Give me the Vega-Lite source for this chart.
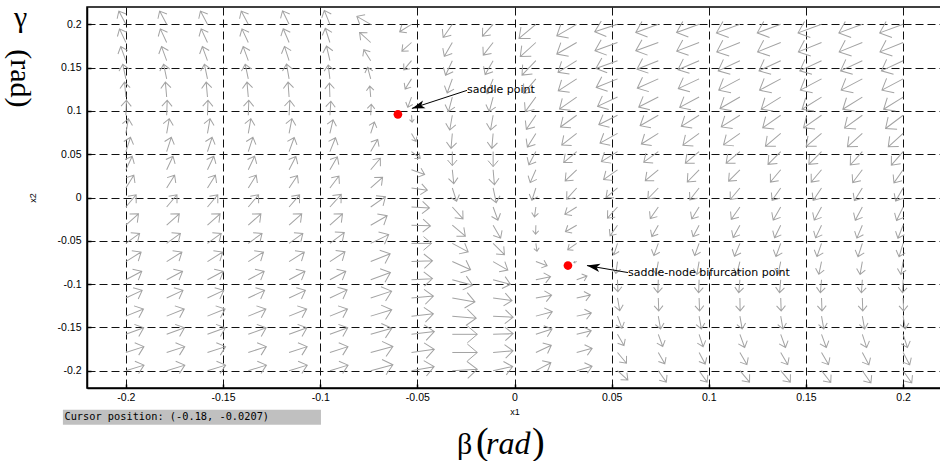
{
"$schema":"https://vega.github.io/schema/vega-lite/v6.json",
"width":855,"height":381,
"autosize":{"type":"none"},
"padding":{"left":87,"top":7,"right":0,"bottom":73},
"background":"white",
"config":{
 "view":{"stroke":"#000","strokeWidth":1.5},
 "axis":{"grid":true,"gridColor":"#111","gridDash":[8,4],"gridWidth":1,"domainColor":"#000","domainWidth":1.5,"tickColor":"#000","tickSize":-4,"tickWidth":1.5,"labelFont":"Liberation Sans","labelFontSize":10.5,"labelColor":"#000","titleFont":"Liberation Sans","titleFontSize":9,"titleFontWeight":"normal","titleColor":"#000"}
},
"datasets":{
"field":[
{"x":-0.2,"y":0.2,"dir":118,"speed":15},{"x":-0.2,"y":0.179,"dir":115,"speed":15},{"x":-0.2,"y":0.158,"dir":110,"speed":15},{"x":-0.2,"y":0.137,"dir":102,"speed":15},{"x":-0.2,"y":0.116,"dir":95,"speed":15},{"x":-0.2,"y":0.095,"dir":88,"speed":15},{"x":-0.2,"y":0.074,"dir":80,"speed":15},{"x":-0.2,"y":0.053,"dir":72,"speed":15},{"x":-0.2,"y":0.032,"dir":65,"speed":15},{"x":-0.2,"y":0.011,"dir":58,"speed":15},{"x":-0.2,"y":-0.011,"dir":50,"speed":16},{"x":-0.2,"y":-0.032,"dir":42,"speed":17},{"x":-0.2,"y":-0.053,"dir":36,"speed":17},{"x":-0.2,"y":-0.074,"dir":32,"speed":18},{"x":-0.2,"y":-0.095,"dir":28,"speed":18},{"x":-0.2,"y":-0.116,"dir":25,"speed":18},{"x":-0.2,"y":-0.137,"dir":22,"speed":19},{"x":-0.2,"y":-0.158,"dir":20,"speed":19},{"x":-0.2,"y":-0.179,"dir":18,"speed":19},{"x":-0.2,"y":-0.2,"dir":17,"speed":19},
{"x":-0.179,"y":0.2,"dir":118,"speed":15},{"x":-0.179,"y":0.179,"dir":115,"speed":15},{"x":-0.179,"y":0.158,"dir":110,"speed":15},{"x":-0.179,"y":0.137,"dir":102,"speed":15},{"x":-0.179,"y":0.116,"dir":95,"speed":15},{"x":-0.179,"y":0.095,"dir":88,"speed":15},{"x":-0.179,"y":0.074,"dir":80,"speed":15},{"x":-0.179,"y":0.053,"dir":72,"speed":15},{"x":-0.179,"y":0.032,"dir":65,"speed":15},{"x":-0.179,"y":0.011,"dir":58,"speed":15},{"x":-0.179,"y":-0.011,"dir":50,"speed":16},{"x":-0.179,"y":-0.032,"dir":42,"speed":17},{"x":-0.179,"y":-0.053,"dir":36,"speed":17},{"x":-0.179,"y":-0.074,"dir":32,"speed":18},{"x":-0.179,"y":-0.095,"dir":28,"speed":18},{"x":-0.179,"y":-0.116,"dir":25,"speed":18},{"x":-0.179,"y":-0.137,"dir":22,"speed":19},{"x":-0.179,"y":-0.158,"dir":20,"speed":19},{"x":-0.179,"y":-0.179,"dir":18,"speed":19},{"x":-0.179,"y":-0.2,"dir":17,"speed":19},
{"x":-0.158,"y":0.2,"dir":118,"speed":15},{"x":-0.158,"y":0.179,"dir":115,"speed":15},{"x":-0.158,"y":0.158,"dir":110,"speed":15},{"x":-0.158,"y":0.137,"dir":102,"speed":15},{"x":-0.158,"y":0.116,"dir":95,"speed":15},{"x":-0.158,"y":0.095,"dir":88,"speed":15},{"x":-0.158,"y":0.074,"dir":80,"speed":15},{"x":-0.158,"y":0.053,"dir":72,"speed":15},{"x":-0.158,"y":0.032,"dir":65,"speed":15},{"x":-0.158,"y":0.011,"dir":58,"speed":15},{"x":-0.158,"y":-0.011,"dir":50,"speed":16},{"x":-0.158,"y":-0.032,"dir":42,"speed":17},{"x":-0.158,"y":-0.053,"dir":36,"speed":17},{"x":-0.158,"y":-0.074,"dir":32,"speed":18},{"x":-0.158,"y":-0.095,"dir":28,"speed":18},{"x":-0.158,"y":-0.116,"dir":25,"speed":18},{"x":-0.158,"y":-0.137,"dir":22,"speed":19},{"x":-0.158,"y":-0.158,"dir":20,"speed":19},{"x":-0.158,"y":-0.179,"dir":18,"speed":19},{"x":-0.158,"y":-0.2,"dir":17,"speed":19},
{"x":-0.137,"y":0.2,"dir":118,"speed":15},{"x":-0.137,"y":0.179,"dir":115,"speed":15},{"x":-0.137,"y":0.158,"dir":110,"speed":15},{"x":-0.137,"y":0.137,"dir":102,"speed":15},{"x":-0.137,"y":0.116,"dir":95,"speed":15},{"x":-0.137,"y":0.095,"dir":88,"speed":15},{"x":-0.137,"y":0.074,"dir":80,"speed":15},{"x":-0.137,"y":0.053,"dir":72,"speed":15},{"x":-0.137,"y":0.032,"dir":65,"speed":15},{"x":-0.137,"y":0.011,"dir":58,"speed":15},{"x":-0.137,"y":-0.011,"dir":50,"speed":16},{"x":-0.137,"y":-0.032,"dir":42,"speed":17},{"x":-0.137,"y":-0.053,"dir":36,"speed":17},{"x":-0.137,"y":-0.074,"dir":32,"speed":18},{"x":-0.137,"y":-0.095,"dir":28,"speed":18},{"x":-0.137,"y":-0.116,"dir":25,"speed":18},{"x":-0.137,"y":-0.137,"dir":22,"speed":19},{"x":-0.137,"y":-0.158,"dir":20,"speed":19},{"x":-0.137,"y":-0.179,"dir":18,"speed":19},{"x":-0.137,"y":-0.2,"dir":17,"speed":19},
{"x":-0.116,"y":0.2,"dir":116,"speed":15},{"x":-0.116,"y":0.179,"dir":113,"speed":15},{"x":-0.116,"y":0.158,"dir":108,"speed":15},{"x":-0.116,"y":0.137,"dir":100,"speed":15},{"x":-0.116,"y":0.116,"dir":94,"speed":15},{"x":-0.116,"y":0.095,"dir":87,"speed":15},{"x":-0.116,"y":0.074,"dir":79,"speed":15},{"x":-0.116,"y":0.053,"dir":70,"speed":15},{"x":-0.116,"y":0.032,"dir":63,"speed":15},{"x":-0.116,"y":0.011,"dir":56,"speed":15},{"x":-0.116,"y":-0.011,"dir":49,"speed":16},{"x":-0.116,"y":-0.032,"dir":42,"speed":17},{"x":-0.116,"y":-0.053,"dir":36,"speed":17},{"x":-0.116,"y":-0.074,"dir":32,"speed":18},{"x":-0.116,"y":-0.095,"dir":28,"speed":18},{"x":-0.116,"y":-0.116,"dir":25,"speed":18},{"x":-0.116,"y":-0.137,"dir":22,"speed":19},{"x":-0.116,"y":-0.158,"dir":20,"speed":19},{"x":-0.116,"y":-0.179,"dir":18,"speed":19},{"x":-0.116,"y":-0.2,"dir":17,"speed":19},
{"x":-0.095,"y":0.2,"dir":112,"speed":15},{"x":-0.095,"y":0.179,"dir":108,"speed":15},{"x":-0.095,"y":0.158,"dir":103,"speed":15},{"x":-0.095,"y":0.137,"dir":97,"speed":14},{"x":-0.095,"y":0.116,"dir":92,"speed":14},{"x":-0.095,"y":0.095,"dir":86,"speed":14},{"x":-0.095,"y":0.074,"dir":77,"speed":14},{"x":-0.095,"y":0.053,"dir":68,"speed":15},{"x":-0.095,"y":0.032,"dir":60,"speed":15},{"x":-0.095,"y":0.011,"dir":53,"speed":15},{"x":-0.095,"y":-0.011,"dir":48,"speed":17},{"x":-0.095,"y":-0.032,"dir":42,"speed":17},{"x":-0.095,"y":-0.053,"dir":37,"speed":18},{"x":-0.095,"y":-0.074,"dir":33,"speed":18},{"x":-0.095,"y":-0.095,"dir":28,"speed":18},{"x":-0.095,"y":-0.116,"dir":25,"speed":19},{"x":-0.095,"y":-0.137,"dir":22,"speed":19},{"x":-0.095,"y":-0.158,"dir":20,"speed":19},{"x":-0.095,"y":-0.179,"dir":18,"speed":19},{"x":-0.095,"y":-0.2,"dir":17,"speed":19},
{"x":-0.074,"y":0.2,"dir":150,"speed":16},{"x":-0.074,"y":0.179,"dir":138,"speed":15},{"x":-0.074,"y":0.158,"dir":122,"speed":13},{"x":-0.074,"y":0.137,"dir":105,"speed":12},{"x":-0.074,"y":0.116,"dir":95,"speed":11},{"x":-0.074,"y":0.095,"dir":87,"speed":11},{"x":-0.074,"y":0.074,"dir":72,"speed":12},{"x":-0.074,"y":0.053,"dir":60,"speed":14},{"x":-0.074,"y":0.032,"dir":50,"speed":15},{"x":-0.074,"y":0.011,"dir":42,"speed":16},{"x":-0.074,"y":-0.011,"dir":35,"speed":18},{"x":-0.074,"y":-0.032,"dir":30,"speed":19},{"x":-0.074,"y":-0.053,"dir":26,"speed":20},{"x":-0.074,"y":-0.074,"dir":22,"speed":21},{"x":-0.074,"y":-0.095,"dir":20,"speed":21},{"x":-0.074,"y":-0.116,"dir":18,"speed":22},{"x":-0.074,"y":-0.137,"dir":17,"speed":22},{"x":-0.074,"y":-0.158,"dir":16,"speed":22},{"x":-0.074,"y":-0.179,"dir":15,"speed":23},{"x":-0.074,"y":-0.2,"dir":15,"speed":23},
{"x":-0.053,"y":0.2,"dir":212,"speed":14},{"x":-0.053,"y":0.179,"dir":222,"speed":13},{"x":-0.053,"y":0.158,"dir":230,"speed":12},{"x":-0.053,"y":0.137,"dir":238,"speed":12},{"x":-0.053,"y":0.116,"dir":250,"speed":11},{"x":-0.053,"y":0.095,"dir":275,"speed":7},{"x":-0.053,"y":0.074,"dir":300,"speed":9},{"x":-0.053,"y":0.053,"dir":322,"speed":11},{"x":-0.053,"y":0.032,"dir":340,"speed":14},{"x":-0.053,"y":0.011,"dir":352,"speed":16},{"x":-0.053,"y":-0.011,"dir":357,"speed":18},{"x":-0.053,"y":-0.032,"dir":358,"speed":19},{"x":-0.053,"y":-0.053,"dir":0,"speed":20},{"x":-0.053,"y":-0.074,"dir":2,"speed":21},{"x":-0.053,"y":-0.095,"dir":3,"speed":21},{"x":-0.053,"y":-0.116,"dir":5,"speed":22},{"x":-0.053,"y":-0.137,"dir":6,"speed":22},{"x":-0.053,"y":-0.158,"dir":7,"speed":23},{"x":-0.053,"y":-0.179,"dir":8,"speed":23},{"x":-0.053,"y":-0.2,"dir":10,"speed":23},
{"x":-0.032,"y":0.2,"dir":235,"speed":16},{"x":-0.032,"y":0.179,"dir":240,"speed":16},{"x":-0.032,"y":0.158,"dir":245,"speed":16},{"x":-0.032,"y":0.137,"dir":250,"speed":15},{"x":-0.032,"y":0.116,"dir":255,"speed":15},{"x":-0.032,"y":0.095,"dir":260,"speed":15},{"x":-0.032,"y":0.074,"dir":265,"speed":15},{"x":-0.032,"y":0.053,"dir":270,"speed":14},{"x":-0.032,"y":0.032,"dir":276,"speed":14},{"x":-0.032,"y":0.011,"dir":288,"speed":14},{"x":-0.032,"y":-0.011,"dir":312,"speed":16},{"x":-0.032,"y":-0.032,"dir":320,"speed":17},{"x":-0.032,"y":-0.053,"dir":332,"speed":18},{"x":-0.032,"y":-0.074,"dir":336,"speed":20},{"x":-0.032,"y":-0.095,"dir":345,"speed":21},{"x":-0.032,"y":-0.116,"dir":350,"speed":23},{"x":-0.032,"y":-0.137,"dir":355,"speed":24},{"x":-0.032,"y":-0.158,"dir":0,"speed":25},{"x":-0.032,"y":-0.179,"dir":0,"speed":25},{"x":-0.032,"y":-0.2,"dir":3,"speed":25},
{"x":-0.011,"y":0.2,"dir":228,"speed":16},{"x":-0.011,"y":0.179,"dir":232,"speed":16},{"x":-0.011,"y":0.158,"dir":240,"speed":16},{"x":-0.011,"y":0.137,"dir":248,"speed":16},{"x":-0.011,"y":0.116,"dir":255,"speed":15},{"x":-0.011,"y":0.095,"dir":260,"speed":15},{"x":-0.011,"y":0.074,"dir":265,"speed":15},{"x":-0.011,"y":0.053,"dir":270,"speed":15},{"x":-0.011,"y":0.032,"dir":275,"speed":15},{"x":-0.011,"y":0.011,"dir":282,"speed":15},{"x":-0.011,"y":-0.011,"dir":290,"speed":14},{"x":-0.011,"y":-0.032,"dir":300,"speed":15},{"x":-0.011,"y":-0.053,"dir":315,"speed":16},{"x":-0.011,"y":-0.074,"dir":330,"speed":17},{"x":-0.011,"y":-0.095,"dir":345,"speed":18},{"x":-0.011,"y":-0.116,"dir":352,"speed":19},{"x":-0.011,"y":-0.137,"dir":357,"speed":20},{"x":-0.011,"y":-0.158,"dir":2,"speed":20},{"x":-0.011,"y":-0.179,"dir":5,"speed":20},{"x":-0.011,"y":-0.2,"dir":12,"speed":20},
{"x":0.011,"y":0.2,"dir":220,"speed":22},{"x":0.011,"y":0.179,"dir":222,"speed":21},{"x":0.011,"y":0.158,"dir":226,"speed":20},{"x":0.011,"y":0.137,"dir":230,"speed":19},{"x":0.011,"y":0.116,"dir":234,"speed":18},{"x":0.011,"y":0.095,"dir":236,"speed":17},{"x":0.011,"y":0.074,"dir":238,"speed":16},{"x":0.011,"y":0.053,"dir":242,"speed":15},{"x":0.011,"y":0.032,"dir":246,"speed":14},{"x":0.011,"y":0.011,"dir":252,"speed":13},{"x":0.011,"y":-0.011,"dir":262,"speed":10},{"x":0.011,"y":-0.032,"dir":268,"speed":9},{"x":0.011,"y":-0.053,"dir":278,"speed":8},{"x":0.011,"y":-0.074,"dir":340,"speed":12},{"x":0.011,"y":-0.095,"dir":12,"speed":15},{"x":0.011,"y":-0.116,"dir":10,"speed":16},{"x":0.011,"y":-0.137,"dir":15,"speed":17},{"x":0.011,"y":-0.158,"dir":18,"speed":17},{"x":0.011,"y":-0.179,"dir":25,"speed":17},{"x":0.011,"y":-0.2,"dir":28,"speed":17},
{"x":0.032,"y":0.2,"dir":210,"speed":23},{"x":0.032,"y":0.179,"dir":210,"speed":23},{"x":0.032,"y":0.158,"dir":212,"speed":22},{"x":0.032,"y":0.137,"dir":213,"speed":22},{"x":0.032,"y":0.116,"dir":215,"speed":21},{"x":0.032,"y":0.095,"dir":216,"speed":20},{"x":0.032,"y":0.074,"dir":218,"speed":19},{"x":0.032,"y":0.053,"dir":220,"speed":17},{"x":0.032,"y":0.032,"dir":224,"speed":16},{"x":0.032,"y":0.011,"dir":228,"speed":15},{"x":0.032,"y":-0.011,"dir":212,"speed":14},{"x":0.032,"y":-0.032,"dir":210,"speed":13},{"x":0.032,"y":-0.053,"dir":215,"speed":11},{"x":0.032,"y":-0.074,"dir":200,"speed":3},{"x":0.032,"y":-0.095,"dir":20,"speed":11},{"x":0.032,"y":-0.116,"dir":12,"speed":14},{"x":0.032,"y":-0.137,"dir":12,"speed":15},{"x":0.032,"y":-0.158,"dir":14,"speed":15},{"x":0.032,"y":-0.179,"dir":15,"speed":16},{"x":0.032,"y":-0.2,"dir":16,"speed":16},
{"x":0.053,"y":0.2,"dir":198,"speed":24},{"x":0.053,"y":0.179,"dir":200,"speed":24},{"x":0.053,"y":0.158,"dir":200,"speed":23},{"x":0.053,"y":0.137,"dir":202,"speed":23},{"x":0.053,"y":0.116,"dir":205,"speed":22},{"x":0.053,"y":0.095,"dir":207,"speed":21},{"x":0.053,"y":0.074,"dir":209,"speed":20},{"x":0.053,"y":0.053,"dir":212,"speed":19},{"x":0.053,"y":0.032,"dir":215,"speed":17},{"x":0.053,"y":0.011,"dir":220,"speed":15},{"x":0.053,"y":-0.011,"dir":228,"speed":15},{"x":0.053,"y":-0.032,"dir":235,"speed":13},{"x":0.053,"y":-0.053,"dir":252,"speed":12},{"x":0.053,"y":-0.074,"dir":262,"speed":12},{"x":0.053,"y":-0.095,"dir":272,"speed":12},{"x":0.053,"y":-0.116,"dir":280,"speed":13},{"x":0.053,"y":-0.137,"dir":290,"speed":13},{"x":0.053,"y":-0.158,"dir":300,"speed":13},{"x":0.053,"y":-0.179,"dir":310,"speed":14},{"x":0.053,"y":-0.2,"dir":318,"speed":14},
{"x":0.074,"y":0.2,"dir":200,"speed":24},{"x":0.074,"y":0.179,"dir":200,"speed":24},{"x":0.074,"y":0.158,"dir":202,"speed":23},{"x":0.074,"y":0.137,"dir":204,"speed":23},{"x":0.074,"y":0.116,"dir":207,"speed":22},{"x":0.074,"y":0.095,"dir":210,"speed":21},{"x":0.074,"y":0.074,"dir":212,"speed":20},{"x":0.074,"y":0.053,"dir":216,"speed":18},{"x":0.074,"y":0.032,"dir":220,"speed":17},{"x":0.074,"y":0.011,"dir":226,"speed":15},{"x":0.074,"y":-0.011,"dir":235,"speed":14},{"x":0.074,"y":-0.032,"dir":240,"speed":13},{"x":0.074,"y":-0.053,"dir":250,"speed":13},{"x":0.074,"y":-0.074,"dir":260,"speed":13},{"x":0.074,"y":-0.095,"dir":268,"speed":13},{"x":0.074,"y":-0.116,"dir":272,"speed":13},{"x":0.074,"y":-0.137,"dir":280,"speed":13},{"x":0.074,"y":-0.158,"dir":290,"speed":13},{"x":0.074,"y":-0.179,"dir":300,"speed":13},{"x":0.074,"y":-0.2,"dir":305,"speed":14},
{"x":0.095,"y":0.2,"dir":200,"speed":24},{"x":0.095,"y":0.179,"dir":201,"speed":24},{"x":0.095,"y":0.158,"dir":203,"speed":23},{"x":0.095,"y":0.137,"dir":205,"speed":23},{"x":0.095,"y":0.116,"dir":208,"speed":22},{"x":0.095,"y":0.095,"dir":212,"speed":21},{"x":0.095,"y":0.074,"dir":216,"speed":20},{"x":0.095,"y":0.053,"dir":220,"speed":18},{"x":0.095,"y":0.032,"dir":226,"speed":17},{"x":0.095,"y":0.011,"dir":232,"speed":15},{"x":0.095,"y":-0.011,"dir":238,"speed":14},{"x":0.095,"y":-0.032,"dir":242,"speed":13},{"x":0.095,"y":-0.053,"dir":250,"speed":13},{"x":0.095,"y":-0.074,"dir":260,"speed":13},{"x":0.095,"y":-0.095,"dir":268,"speed":13},{"x":0.095,"y":-0.116,"dir":272,"speed":13},{"x":0.095,"y":-0.137,"dir":280,"speed":13},{"x":0.095,"y":-0.158,"dir":288,"speed":13},{"x":0.095,"y":-0.179,"dir":298,"speed":13},{"x":0.095,"y":-0.2,"dir":305,"speed":14},
{"x":0.116,"y":0.2,"dir":200,"speed":25},{"x":0.116,"y":0.179,"dir":202,"speed":25},{"x":0.116,"y":0.158,"dir":205,"speed":24},{"x":0.116,"y":0.137,"dir":208,"speed":24},{"x":0.116,"y":0.116,"dir":210,"speed":23},{"x":0.116,"y":0.095,"dir":212,"speed":22},{"x":0.116,"y":0.074,"dir":215,"speed":20},{"x":0.116,"y":0.053,"dir":220,"speed":18},{"x":0.116,"y":0.032,"dir":225,"speed":16},{"x":0.116,"y":0.011,"dir":230,"speed":15},{"x":0.116,"y":-0.011,"dir":235,"speed":15},{"x":0.116,"y":-0.032,"dir":241,"speed":14},{"x":0.116,"y":-0.053,"dir":247,"speed":14},{"x":0.116,"y":-0.074,"dir":256,"speed":13},{"x":0.116,"y":-0.095,"dir":265,"speed":13},{"x":0.116,"y":-0.116,"dir":271,"speed":13},{"x":0.116,"y":-0.137,"dir":280,"speed":13},{"x":0.116,"y":-0.158,"dir":290,"speed":14},{"x":0.116,"y":-0.179,"dir":300,"speed":14},{"x":0.116,"y":-0.2,"dir":310,"speed":15},
{"x":0.137,"y":0.2,"dir":200,"speed":25},{"x":0.137,"y":0.179,"dir":202,"speed":25},{"x":0.137,"y":0.158,"dir":205,"speed":24},{"x":0.137,"y":0.137,"dir":208,"speed":24},{"x":0.137,"y":0.116,"dir":212,"speed":23},{"x":0.137,"y":0.095,"dir":215,"speed":22},{"x":0.137,"y":0.074,"dir":220,"speed":20},{"x":0.137,"y":0.053,"dir":225,"speed":18},{"x":0.137,"y":0.032,"dir":230,"speed":16},{"x":0.137,"y":0.011,"dir":235,"speed":15},{"x":0.137,"y":-0.011,"dir":240,"speed":15},{"x":0.137,"y":-0.032,"dir":244,"speed":14},{"x":0.137,"y":-0.053,"dir":250,"speed":14},{"x":0.137,"y":-0.074,"dir":258,"speed":13},{"x":0.137,"y":-0.095,"dir":265,"speed":13},{"x":0.137,"y":-0.116,"dir":272,"speed":13},{"x":0.137,"y":-0.137,"dir":280,"speed":13},{"x":0.137,"y":-0.158,"dir":290,"speed":14},{"x":0.137,"y":-0.179,"dir":300,"speed":14},{"x":0.137,"y":-0.2,"dir":310,"speed":15},
{"x":0.158,"y":0.2,"dir":200,"speed":25},{"x":0.158,"y":0.179,"dir":202,"speed":25},{"x":0.158,"y":0.158,"dir":205,"speed":24},{"x":0.158,"y":0.137,"dir":208,"speed":24},{"x":0.158,"y":0.116,"dir":212,"speed":23},{"x":0.158,"y":0.095,"dir":215,"speed":22},{"x":0.158,"y":0.074,"dir":220,"speed":20},{"x":0.158,"y":0.053,"dir":225,"speed":18},{"x":0.158,"y":0.032,"dir":230,"speed":16},{"x":0.158,"y":0.011,"dir":236,"speed":15},{"x":0.158,"y":-0.011,"dir":241,"speed":15},{"x":0.158,"y":-0.032,"dir":245,"speed":14},{"x":0.158,"y":-0.053,"dir":251,"speed":14},{"x":0.158,"y":-0.074,"dir":258,"speed":13},{"x":0.158,"y":-0.095,"dir":265,"speed":13},{"x":0.158,"y":-0.116,"dir":272,"speed":13},{"x":0.158,"y":-0.137,"dir":280,"speed":13},{"x":0.158,"y":-0.158,"dir":290,"speed":14},{"x":0.158,"y":-0.179,"dir":300,"speed":14},{"x":0.158,"y":-0.2,"dir":308,"speed":15},
{"x":0.179,"y":0.2,"dir":200,"speed":25},{"x":0.179,"y":0.179,"dir":202,"speed":25},{"x":0.179,"y":0.158,"dir":205,"speed":24},{"x":0.179,"y":0.137,"dir":208,"speed":24},{"x":0.179,"y":0.116,"dir":212,"speed":23},{"x":0.179,"y":0.095,"dir":216,"speed":22},{"x":0.179,"y":0.074,"dir":222,"speed":20},{"x":0.179,"y":0.053,"dir":228,"speed":18},{"x":0.179,"y":0.032,"dir":233,"speed":16},{"x":0.179,"y":0.011,"dir":238,"speed":15},{"x":0.179,"y":-0.011,"dir":242,"speed":15},{"x":0.179,"y":-0.032,"dir":247,"speed":14},{"x":0.179,"y":-0.053,"dir":252,"speed":14},{"x":0.179,"y":-0.074,"dir":260,"speed":13},{"x":0.179,"y":-0.095,"dir":266,"speed":13},{"x":0.179,"y":-0.116,"dir":272,"speed":13},{"x":0.179,"y":-0.137,"dir":280,"speed":13},{"x":0.179,"y":-0.158,"dir":288,"speed":14},{"x":0.179,"y":-0.179,"dir":298,"speed":14},{"x":0.179,"y":-0.2,"dir":305,"speed":15},
{"x":0.2,"y":0.2,"dir":200,"speed":25},{"x":0.2,"y":0.179,"dir":202,"speed":25},{"x":0.2,"y":0.158,"dir":205,"speed":24},{"x":0.2,"y":0.137,"dir":208,"speed":24},{"x":0.2,"y":0.116,"dir":212,"speed":23},{"x":0.2,"y":0.095,"dir":217,"speed":22},{"x":0.2,"y":0.074,"dir":222,"speed":20},{"x":0.2,"y":0.053,"dir":229,"speed":18},{"x":0.2,"y":0.032,"dir":235,"speed":16},{"x":0.2,"y":0.011,"dir":240,"speed":15},{"x":0.2,"y":-0.011,"dir":244,"speed":15},{"x":0.2,"y":-0.032,"dir":248,"speed":14},{"x":0.2,"y":-0.053,"dir":253,"speed":14},{"x":0.2,"y":-0.074,"dir":260,"speed":13},{"x":0.2,"y":-0.095,"dir":267,"speed":13},{"x":0.2,"y":-0.116,"dir":272,"speed":13},{"x":0.2,"y":-0.137,"dir":280,"speed":13},{"x":0.2,"y":-0.158,"dir":288,"speed":14},{"x":0.2,"y":-0.179,"dir":298,"speed":14},{"x":0.2,"y":-0.2,"dir":305,"speed":15}
],
"equilibria":[{"x":-0.06,"y":0.096,"kind":"saddle point"},{"x":0.0275,"y":-0.0786,"kind":"saddle-node bifurcation point"}],
"notes":[
{"x":-0.02445,"y":0.1237,"x2":-0.0528,"y2":0.1029,"dir":198,"label":"saddle point"},
{"x":0.0584,"y":-0.0867,"x2":0.0373,"y2":-0.0786,"dir":170,"label":"saddle-node bifurcation point"}
]
},
"encoding":{
 "x":{"field":"x","type":"quantitative","scale":{"domain":[-0.22,0.22],"nice":false,"zero":false},
  "axis":{"title":"x1","values":[-0.2,-0.15,-0.1,-0.05,0,0.05,0.1,0.15,0.2],"labelExpr":"toString(datum.value)","labelPadding":8,"titlePadding":5}},
 "y":{"field":"y","type":"quantitative","scale":{"domain":[-0.22,0.22],"nice":false,"zero":false},
  "axis":{"title":"x2","values":[-0.2,-0.15,-0.1,-0.05,0,0.05,0.1,0.15,0.2],"labelExpr":"toString(datum.value)","labelPadding":10,"titlePadding":20}}
},
"layer":[
 {"data":{"name":"field"},
  "mark":{"type":"point","shape":"M0,0L1,0M0.6,-0.34L1,0L0.6,0.34","filled":false,"stroke":"#a3a3a3","strokeWidth":1,"opacity":1},
  "encoding":{
   "angle":{"field":"dir","type":"quantitative","scale":{"domain":[0,360],"range":[360,0]}},
   "size":{"field":"speed","type":"quantitative","scale":{"type":"pow","exponent":2,"domain":[0,24],"range":[0,2304]},"legend":null}
  }},
 {"data":{"name":"equilibria"},
  "mark":{"type":"circle","size":75,"color":"#ff0000","opacity":1}},
 {"data":{"name":"notes"},
  "mark":{"type":"rule","color":"#000","strokeWidth":1},
  "encoding":{"x2":{"field":"x2"},"y2":{"field":"y2"}}},
 {"data":{"name":"notes"},
  "mark":{"type":"point","shape":"M0,0L-1,-0.32L-0.75,0L-1,0.32Z","filled":true,"color":"#000","opacity":1,"size":676},
  "encoding":{
   "x":{"field":"x2","type":"quantitative"},
   "y":{"field":"y2","type":"quantitative"},
   "angle":{"field":"dir","type":"quantitative","scale":{"domain":[0,360],"range":[360,0]}}
  }},
 {"data":{"name":"notes"},
  "mark":{"type":"text","align":"left","baseline":"middle","font":"DejaVu Sans","fontSize":11,"color":"#000"},
  "encoding":{"text":{"field":"label"}}},
 {"data":{"values":[{"x":-0.2324,"x2":-0.0996,"y":-0.2451,"y2":-0.2624}]},
  "mark":{"type":"rect","color":"#c0c0c0","opacity":1},
  "encoding":{"x2":{"field":"x2"},"y2":{"field":"y2"}}},
 {"data":{"values":[{"x":-0.2316,"y":-0.2538,"label":"Cursor position: (-0.18, -0.0207)"}]},
  "mark":{"type":"text","align":"left","baseline":"middle","font":"DejaVu Sans Mono","fontSize":10.3,"color":"#000"},
  "encoding":{"text":{"field":"label"}}},
 {"data":{"values":[{"x":-0.0296,"y":-0.296,"label":"β"}]},
  "mark":{"type":"text","align":"left","baseline":"alphabetic","font":"Liberation Serif","fontSize":30,"color":"#000"},
  "encoding":{"text":{"field":"label"}}},
 {"data":{"values":[{"x":-0.2541,"y":0.197,"label":"γ"}]},
  "mark":{"type":"text","align":"center","baseline":"alphabetic","font":"Liberation Serif","fontSize":30,"color":"#000"},
  "encoding":{"text":{"field":"label"}}},
 {"data":{"values":[{"x":-0.0198,"y":-0.296,"label":"("},{"x":0.009,"y":-0.296,"label":")"}]},
  "mark":{"type":"text","align":"left","baseline":"alphabetic","font":"Liberation Serif","fontSize":38,"color":"#000"},
  "encoding":{"text":{"field":"label"}}},
 {"data":{"values":[{"x":-0.0147,"y":-0.296,"label":"rad"}]},
  "mark":{"type":"text","align":"left","baseline":"alphabetic","font":"Liberation Serif","fontStyle":"italic","fontSize":32,"color":"#000"},
  "encoding":{"text":{"field":"label"}}},
 {"data":{"values":[{"x":-0.2546,"y":0.1376,"label":"(rad)"}]},
  "mark":{"type":"text","align":"center","baseline":"middle","angle":90,"font":"Liberation Serif","fontSize":30,"color":"#000"},
  "encoding":{"text":{"field":"label"}}}
]
}
